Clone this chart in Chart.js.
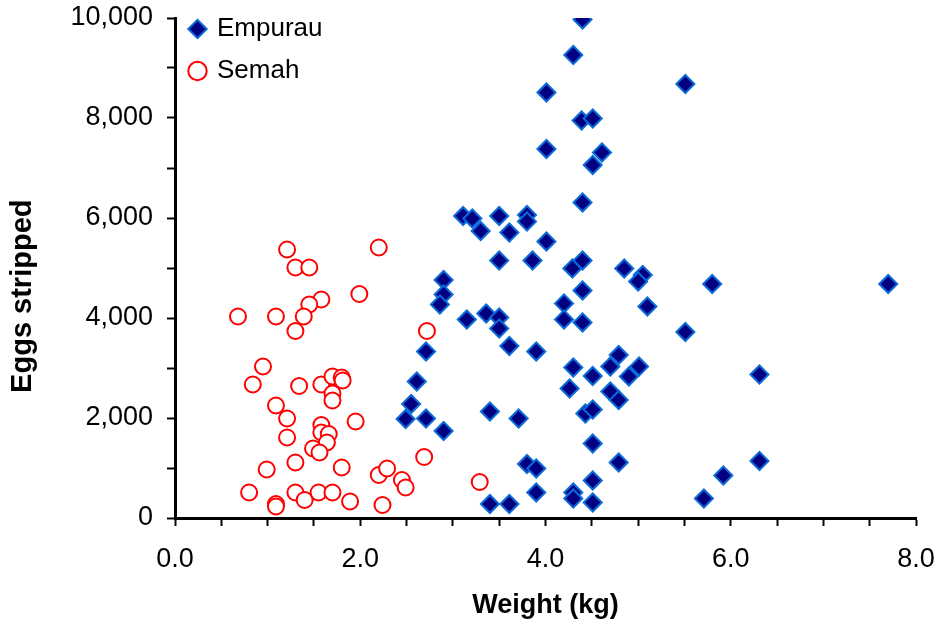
<!DOCTYPE html>
<html lang="en">
<head>
    <meta charset="UTF-8">
    <title>Eggs stripped vs weight</title>
    <script src="https://cdn.jsdelivr.net/npm/chart.js"></script>
    <style>
        body { margin: 0; background: #fff; }
        .chart-container { position: relative; width: 940px; height: 628px; }
    </style>
</head>
<body>
    <div class="chart-container">
        <canvas id="myChart"></canvas>
    </div>
    <script>
        // Empurau (diamonds)
        const empurauWeight = [4.40, 4.30, 4.01, 4.39, 4.51, 4.01, 4.61, 4.51, 4.40,
            3.11, 3.21, 3.30, 3.50, 3.61, 3.80, 3.80, 4.01, 3.50, 3.86, 4.29, 4.40, 4.85, 5.05, 5.00, 4.40,
            2.90, 2.90, 2.86, 4.20, 5.10, 3.15, 3.36, 3.50, 3.50, 4.20, 4.40, 3.61, 3.90, 2.71, 4.79,
            2.61, 2.55, 2.49, 2.71, 2.90, 3.40, 3.71, 4.30, 4.51, 4.26, 4.70, 4.90, 5.01, 4.70, 4.79,
            4.43, 4.51, 4.51, 4.79, 3.80, 3.90, 4.51, 3.90, 4.30, 4.30, 4.51, 3.40, 3.61,
            5.51, 5.80, 7.70, 5.51, 6.31, 6.31, 5.92, 5.71];
        const empurauEggs = [9970, 9260, 8510, 7950, 7990, 7380, 7310, 7060, 6310,
            6040, 5990, 5740, 6040, 5710, 6060, 5930, 5530, 5150, 5150, 4990, 5150, 4990, 4860, 4730, 4550,
            4760, 4470, 4270, 4290, 4230, 3970, 4090, 4010, 3790, 3970, 3910, 3440, 3330, 3330, 3260,
            2730, 2280, 1980, 1990, 1740, 2130, 1990, 3010, 2840, 2590, 3030, 2830, 3030, 2530, 2360,
            2090, 2170, 1490, 1110, 1080, 990, 750, 510, 510, 390, 310, 280, 280,
            8680, 4680, 4680, 3720, 2870, 1140, 850, 390];

        // Semah (open circles)
        const semahWeight = [0.68, 1.09, 1.21, 2.20, 1.30, 1.45, 1.99, 1.58, 1.45, 1.39, 1.30, 2.72,
            0.95, 0.84, 1.34, 1.58, 1.70, 1.80, 1.81, 1.70, 1.70, 1.09, 1.21, 1.95, 1.58, 1.58, 1.66,
            1.64, 1.49, 1.56, 1.21, 1.30, 0.99, 1.80, 0.80, 1.09, 1.09, 1.30, 1.40, 1.55, 1.70, 1.89,
            2.20, 2.29, 2.45, 2.49, 2.24, 2.69, 3.29];
        const semahEggs = [4030, 4030, 5370, 5410, 5010, 5010, 4480, 4370, 4270, 4030, 3740, 3740,
            3030, 2670, 2640, 2670, 2830, 2810, 2750, 2490, 2350, 2250, 1990, 1930, 1860, 1710, 1680,
            1510, 1390, 1310, 1610, 1110, 970, 1010, 510, 280, 230, 510, 360, 510, 510, 330,
            860, 990, 760, 610, 260, 1220, 720];

        const xLabels = [0, 2, 4, 6, 8];
        const yLabels = [0, 2000, 4000, 6000, 8000, 10000];

        const toPoints = (xs, ys) => xs.map((x, i) => ({ x: x, y: ys[i] }));

        // let the layout padding alone decide where the plot box sits
        const noLabelPadding = scale => {
            scale.paddingTop = 0;
            scale.paddingBottom = 0;
            scale.paddingLeft = 0;
            scale.paddingRight = 0;
        };

        Chart.defaults.color = '#000';
        Chart.defaults.font.family = '"Liberation Sans", Arial, sans-serif';

        const ctx = document.getElementById('myChart').getContext('2d');
        new Chart(ctx, {
            type: 'scatter',
            data: {
                datasets: [{
                    label: 'Empurau',
                    data: toPoints(empurauWeight, empurauEggs),
                    pointStyle: 'rectRot',
                    pointRadius: 9,
                    backgroundColor: '#000080',
                    borderColor: '#0a6ad8',
                    borderWidth: 2,
                    order: 2
                }, {
                    label: 'Semah',
                    data: toPoints(semahWeight, semahEggs),
                    pointStyle: 'circle',
                    pointRadius: 8,
                    backgroundColor: '#fff',
                    borderColor: '#ff0000',
                    borderWidth: 2,
                    order: 1
                }]
            },
            options: {
                responsive: true,
                maintainAspectRatio: false,
                animation: false,
                layout: { padding: { top: 18, right: 24, left: 0, bottom: 0 } },
                plugins: {
                    tooltip: { enabled: false },
                    legend: {
                        position: 'chartArea',
                        align: 'start',
                        labels: {
                            usePointStyle: true,
                            boxWidth: 13,
                            boxHeight: 13,
                            padding: 16,
                            font: { size: 26 },
                            color: '#000',
                            sort: (a, b) => a.datasetIndex - b.datasetIndex
                        }
                    }
                },
                scales: {
                    x: {
                        type: 'linear',
                        min: 0,
                        max: 8,
                        afterFit: scale => { scale.height = 110; noLabelPadding(scale); },
                        border: { color: '#000', width: 3 },
                        grid: { drawOnChartArea: false, tickLength: 8, tickColor: '#000', tickWidth: 2 },
                        ticks: {
                            stepSize: 0.5,
                            autoSkip: false,
                            maxRotation: 0,
                            padding: 17,
                            font: { size: 27 },
                            callback: v => xLabels.includes(v) ? v.toFixed(1) : ''
                        },
                        title: {
                            display: true,
                            text: 'Weight (kg)',
                            font: { size: 27, weight: 'bold' },
                            padding: { top: 0, bottom: 6 }
                        }
                    },
                    y: {
                        min: 0,
                        max: 10000,
                        afterFit: scale => { scale.width = 175; noLabelPadding(scale); },
                        border: { color: '#000', width: 3 },
                        grid: { drawOnChartArea: false, tickLength: 8, tickColor: '#000', tickWidth: 2 },
                        ticks: {
                            stepSize: 1000,
                            autoSkip: false,
                            padding: 14,
                            font: { size: 27 },
                            callback: v => yLabels.includes(v) ? v.toLocaleString('en-US') : ''
                        },
                        title: {
                            display: true,
                            // trailing spaces push the words a little below the axis middle, as in the source
                            text: 'Eggs stripped       ',
                            font: { size: 29, weight: 'bold' },
                            padding: { top: 6, bottom: 0 }
                        }
                    }
                }
            }
        });
    </script>
</body>
</html>
